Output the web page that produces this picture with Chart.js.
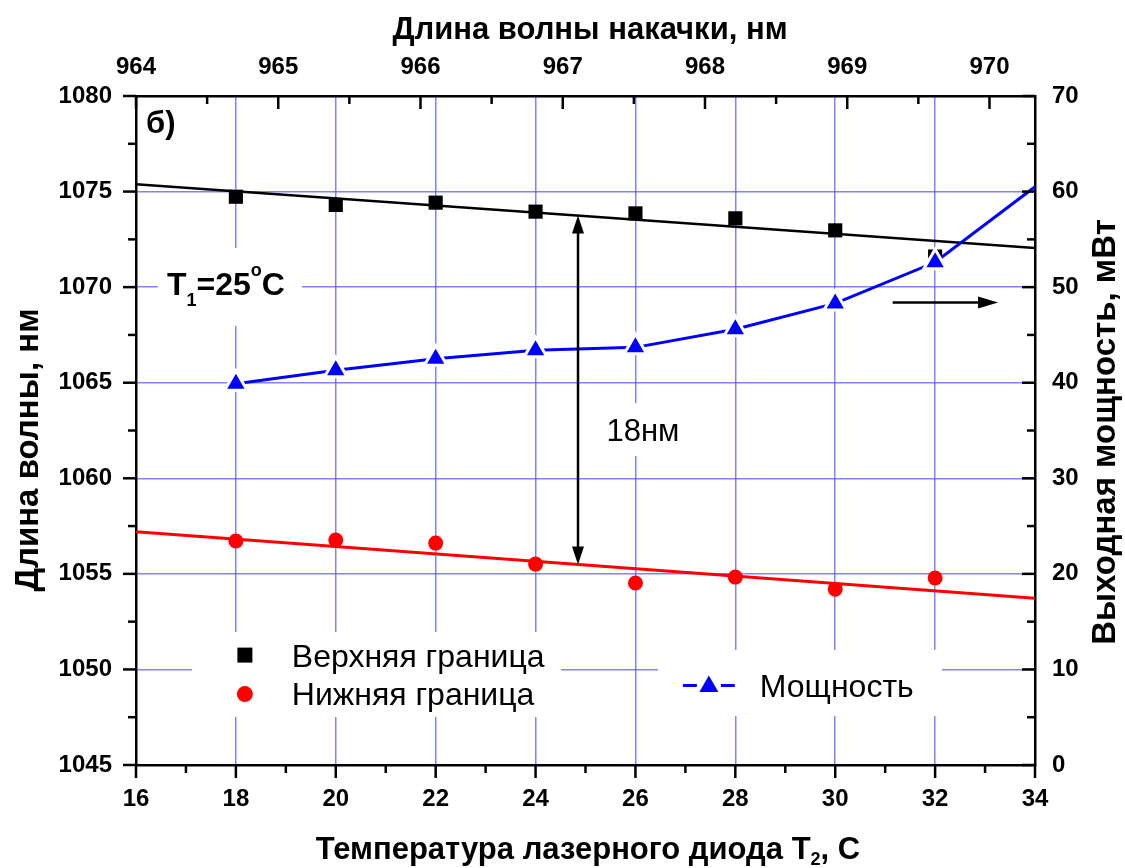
<!DOCTYPE html>
<html><head><meta charset="utf-8">
<script src="https://cdn.jsdelivr.net/npm/chart.js@4.4.1/dist/chart.umd.min.js"></script>
<style>html,body{margin:0;padding:0;background:#fff}#wrap{width:1125px;height:868px}</style>
</head><body><div id="wrap"><canvas id="c" width="1125" height="868"></canvas></div>
<script>
// ---- data ----
const temps = [18, 20, 22, 24, 26, 28, 30, 32];
const upperNm = [1074.73, 1074.3, 1074.42, 1073.95, 1073.86, 1073.6, 1072.97, 1071.6];
const lowerNm = [1056.72, 1056.77, 1056.61, 1055.51, 1054.52, 1054.83, 1054.2, 1054.78];
const powerT = [18, 20, 22, 24, 26, 28, 30, 32, 34];
const powerMW = [39.9, 41.3, 42.5, 43.4, 43.7, 45.6, 48.3, 52.6, 60.5];
const fitT = [16, 34];
const upperFit = [1075.38, 1072.05];
const lowerFit = [1057.2, 1053.73];
const xTicksBottom = { min: 16, max: 34, step: 2 };
const xTicksTop = { min: 964, max: 970.32, step: 1 };
const yTicksLeft = { min: 1045, max: 1080, step: 5 };
const yTicksRight = { min: 0, max: 70, step: 10 };

const labels = {
  top: 'Длина волны накачки, нм',
  bottomMain: 'Температура лазерного диода T',
  bottomSub: '2',
  bottomTail: ', C',
  left: 'Длина волны, нм',
  right: 'Выходная мощность, мВт',
  upper: 'Верхняя граница',
  lower: 'Нижняя граница',
  power: 'Мощность',
  gap: '18нм',
  panel: 'б)'
};

const FONT = "'Liberation Sans', Arial, sans-serif";
Chart.defaults.font.family = FONT;
Chart.defaults.color = '#000';
const GRID = 'rgba(80,80,255,0.72)';

const pts = (xs, ys) => xs.map((x, i) => ({ x, y: ys[i] }));
const interp = (xs, ys, x) => ys[0] + (ys[1] - ys[0]) * (x - xs[0]) / (xs[1] - xs[0]);

function triangle(ctx, x, y, r) {
  ctx.beginPath();
  for (let k = 0; k < 3; k++) {
    const a = k * 2 * Math.PI / 3;
    const px = x + Math.sin(a) * r, py = y - Math.cos(a) * r;
    k ? ctx.lineTo(px, py) : ctx.moveTo(px, py);
  }
  ctx.closePath();
  ctx.fill();
}
function arrowHead(ctx, x, y, ang, len, hw) {
  ctx.save();
  ctx.translate(x, y); ctx.rotate(ang);
  ctx.beginPath(); ctx.moveTo(0, 0); ctx.lineTo(-len, -hw); ctx.lineTo(-len, hw); ctx.closePath();
  ctx.fill(); ctx.restore();
}

const deco = {
  id: 'deco',
  beforeDatasetsDraw(chart) {
    const { ctx, scales: { x, y } } = chart;
    const X = v => x.getPixelForValue(v), Y = v => y.getPixelForValue(v);
    ctx.save();
    ctx.fillStyle = '#fff';
    const boxes = [
      [16.44, 19.32, 1072.05, 1067.97],   // T1 label
      [25.25, 27.09, 1063.94, 1061.17],   // 18нм label
      [17.12, 24.51, 1051.96, 1047.51],   // legend 1
      [26.45, 32.14, 1051.02, 1047.56]    // legend 2
    ];
    boxes.forEach(b => ctx.fillRect(X(b[0]), Y(b[2]), X(b[1]) - X(b[0]), Y(b[3]) - Y(b[2])));
    ctx.restore();
  },
  afterDraw(chart) {
    const { ctx, chartArea: a, scales } = chart;
    const { x, y, x2, y2 } = scales;
    const X = v => x.getPixelForValue(v), Y = v => y.getPixelForValue(v);
    ctx.save();
    // ---- tick marks ----
    ctx.strokeStyle = '#000'; ctx.lineWidth = 2.5;
    function marks(scale, fn) {
      const vals = scale.ticks.map(t => t.value);
      vals.forEach(v => fn(scale.getPixelForValue(v), 13));
      for (let i = 0; i + 1 < vals.length; i++) fn(scale.getPixelForValue((vals[i] + vals[i + 1]) / 2), 8);
    }
    const seg = (x1, y1, x2_, y2_) => { ctx.beginPath(); ctx.moveTo(x1, y1); ctx.lineTo(x2_, y2_); ctx.stroke(); };
    marks(y, (p, l) => seg(a.left, p, a.left - l, p));
    marks(x, (p, l) => seg(p, a.bottom, p, a.bottom + l));
    marks(x2, (p, l) => seg(p, a.top, p, a.top + l));
    marks(y2, (p, l) => seg(a.right, p, a.right - l, p));

    // ---- arrows ----
    ctx.fillStyle = '#000'; ctx.lineWidth = 2.5;
    const ax = 24.85;
    const yt = Y(interp(fitT, upperFit, ax)), yb = Y(interp(fitT, lowerFit, ax));
    seg(X(ax), yt + 14, X(ax), yb - 14);
    arrowHead(ctx, X(ax), yt, -Math.PI / 2, 18, 6);
    arrowHead(ctx, X(ax), yb, Math.PI / 2, 18, 6);
    const ry = y2.getPixelForValue(48.4);
    seg(X(31.15), ry, X(33.26) - 16, ry);
    arrowHead(ctx, X(33.26), ry, 0, 20, 6);

    // ---- axis titles ----
    ctx.fillStyle = '#000';
    ctx.textBaseline = 'alphabetic';
    ctx.textAlign = 'center';
    ctx.font = `bold 31px ${FONT}`;
    ctx.fillText(labels.top, 590, 39);
    // bottom title with subscript
    ctx.textAlign = 'left';
    const big = `bold 31px ${FONT}`, small = `bold 18px ${FONT}`;
    ctx.font = big; const w1 = ctx.measureText(labels.bottomMain).width, w3 = ctx.measureText(labels.bottomTail).width;
    ctx.font = small; const w2 = ctx.measureText(labels.bottomSub).width;
    let bx = 588 - (w1 + w2 + w3) / 2; const bb = 859;
    ctx.font = big; ctx.fillText(labels.bottomMain, bx, bb); bx += w1;
    ctx.font = small; ctx.fillText(labels.bottomSub, bx, bb + 6); bx += w2;
    ctx.font = big; ctx.fillText(labels.bottomTail, bx, bb);
    // vertical titles
    ctx.textAlign = 'center'; ctx.textBaseline = 'middle';
    ctx.font = `bold 33px ${FONT}`;
    ctx.save(); ctx.translate(29, 450); ctx.rotate(-Math.PI / 2); ctx.fillText(labels.left, 0, 0); ctx.restore();
    ctx.save(); ctx.translate(1106, 432); ctx.rotate(-Math.PI / 2); ctx.fillText(labels.right, 0, 0); ctx.restore();

    // ---- texts ----
    ctx.textBaseline = 'alphabetic'; ctx.textAlign = 'left'; ctx.fillStyle = '#000';
    ctx.font = `bold 31px ${FONT}`;
    ctx.fillText(labels.panel, X(16.2), Y(1078.06));
    // T1=25°C
    let tx = X(16.62); const tb = Y(1069.59);
    const part = (s, size, dy) => { ctx.font = `bold ${size}px ${FONT}`; ctx.fillText(s, tx, tb + dy); tx += ctx.measureText(s).width; };
    part('T', 32, 0); part('1', 18, 11); part('=25', 32, 0); part('o', 18, -19); part('C', 32, 0);
    ctx.font = `31px ${FONT}`;
    ctx.fillText(labels.gap, X(25.42), Y(1061.95));

    // ---- legend ----
    ctx.fillStyle = '#000';
    ctx.fillRect(X(18.18) - 7.5, Y(1050.75) - 7.5, 15, 15);
    ctx.fillStyle = '#f00';
    ctx.beginPath(); ctx.arc(X(18.18), Y(1048.71), 8, 0, 2 * Math.PI); ctx.fill();
    ctx.fillStyle = '#000'; ctx.font = `32px ${FONT}`;
    ctx.fillText(labels.upper, X(19.12), Y(1050.13));
    ctx.fillText(labels.lower, X(19.12), Y(1048.14));
    const ly = Y(1049.16);
    ctx.strokeStyle = '#00f'; ctx.lineWidth = 3;
    seg(X(26.95), ly, X(27.47) - 12, ly);
    seg(X(27.47) + 12, ly, X(27.99), ly);
    ctx.fillStyle = '#00f';
    triangle(ctx, X(27.47), ly + 1, 11);
    ctx.fillStyle = '#000';
    ctx.fillText(labels.power, X(28.49), Y(1048.58));
    ctx.restore();
  }
};

const gridColor = lim => c => (c.tick && (Math.abs(c.tick.value - lim[0]) < 1e-6 || Math.abs(c.tick.value - lim[1]) < 1e-6)) ? 'rgba(0,0,0,0)' : GRID;
const tickFont = { size: 24, weight: 'bold' };
const border = { color: '#000', width: 2.5 };
const plain = v => String(Math.round(v));

new Chart(document.getElementById('c'), {
  type: 'line',
  data: {
    datasets: [
      { label: labels.power, data: pts(powerT, powerMW), yAxisID: 'y2', xAxisID: 'x',
        borderColor: '#00f', borderWidth: 3, backgroundColor: '#00f',
        pointStyle: 'triangle', pointRadius: powerT.map((t, i) => i === powerT.length - 1 ? 0 : 13),
        pointBackgroundColor: '#00f', pointBorderColor: '#fff', pointBorderWidth: 3, tension: 0 },
      { label: labels.upper, data: pts(temps, upperNm), yAxisID: 'y', showLine: false,
        pointStyle: 'rect', pointRadius: 10, pointBackgroundColor: '#000', pointBorderWidth: 0, borderColor: '#000' },
      { label: labels.lower, data: pts(temps, lowerNm), yAxisID: 'y', showLine: false,
        pointStyle: 'circle', pointRadius: 7.5, pointBackgroundColor: '#f00', pointBorderWidth: 0, borderColor: '#f00' },
      { label: 'fit-upper', data: pts(fitT, upperFit), yAxisID: 'y', borderColor: '#000', borderWidth: 2.5, pointRadius: 0, tension: 0 },
      { label: 'fit-lower', data: pts(fitT, lowerFit), yAxisID: 'y', borderColor: '#f00', borderWidth: 3, pointRadius: 0, tension: 0 }
    ]
  },
  options: {
    responsive: false, animation: false, devicePixelRatio: 1,
    layout: { padding: 0 },
    plugins: { legend: { display: false }, tooltip: { enabled: false } },
    scales: {
      x: { type: 'linear', position: 'bottom', min: xTicksBottom.min, max: xTicksBottom.max,
        ticks: { stepSize: xTicksBottom.step, padding: 20, font: tickFont, color: '#000', callback: plain },
        grid: { drawTicks: false, color: gridColor([16, 34]), lineWidth: 1.5 },
        border, afterFit: s => { s.height = 103; } },
      x2: { type: 'linear', position: 'top', min: xTicksTop.min, max: xTicksTop.max,
        ticks: { stepSize: xTicksTop.step, includeBounds: false, padding: 14, font: tickFont, color: '#000', callback: plain },
        grid: { display: false, drawTicks: false },
        border, afterFit: s => { s.height = 96; } },
      y: { type: 'linear', position: 'left', min: yTicksLeft.min, max: yTicksLeft.max,
        ticks: { stepSize: yTicksLeft.step, padding: 24, font: tickFont, color: '#000', callback: plain },
        grid: { drawTicks: false, color: gridColor([1045, 1080]), lineWidth: 1.5 },
        border, afterFit: s => { s.width = 136; } },
      y2: { type: 'linear', position: 'right', min: yTicksRight.min, max: yTicksRight.max,
        ticks: { stepSize: yTicksRight.step, padding: 17, font: tickFont, color: '#000', callback: plain },
        grid: { display: false, drawTicks: false },
        border, afterFit: s => { s.width = 90; } }
    }
  },
  plugins: [deco]
});
</script>
</body></html>
